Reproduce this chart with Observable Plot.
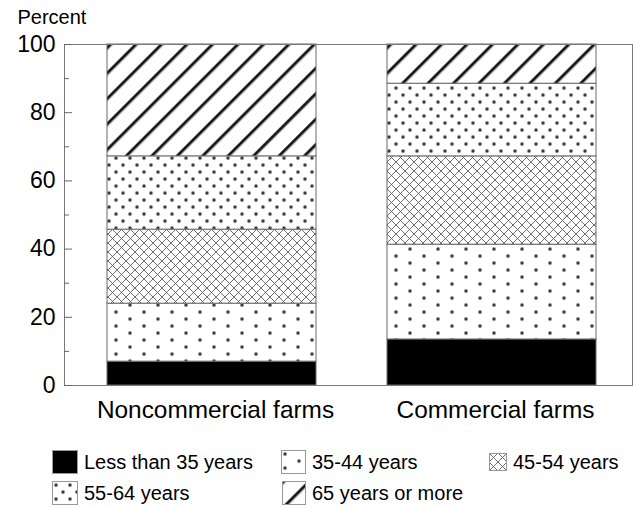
<!DOCTYPE html>
<html>
<head>
<meta charset="utf-8">
<script src="https://cdn.jsdelivr.net/npm/d3@7"></script>
<script src="https://cdn.jsdelivr.net/npm/@observablehq/plot@0.6"></script>
<style>
  html, body { margin: 0; padding: 0; background: #fff; }
  body { width: 633px; height: 508px; overflow: hidden; font-family: "Liberation Sans", Arial, sans-serif; color: #000; }
  #legend { position: relative; width: 633px; height: 78px; font-size: 20px; }
  .item { position: absolute; display: flex; align-items: center; white-space: nowrap; }
  .item svg { display: block; margin-right: 6px; }
</style>
</head>
<body>
<div id="chart"></div>
<div id="legend"></div>
<script>
// ---- data ----
const farms = ["Noncommercial farms", "Commercial farms"];
const ages = ["Less than 35 years", "35-44 years", "45-54 years", "55-64 years", "65 years or more"];
const noncommercial = [7.0, 17.0, 21.7, 21.5, 32.8];
const commercial = [13.5, 27.8, 25.9, 21.3, 11.5];
const majorTicks = [0, 20, 40, 60, 80, 100];
const minorTicks = [10, 30, 50, 70, 90];

const seriesByFarm = [noncommercial, commercial];
const data = [];
farms.forEach((f, i) => ages.forEach((a, j) => data.push({farm: f, age: a, pct: seriesByFarm[i][j]})));

const patternIds = ["p-lt35", "p-35", "p-45", "p-55", "p-65"];
const fills = ["#000", ...patternIds.slice(1).map(id => `url(#${id})`)];

// pattern definitions (global, used by bars and legend)
const defsSvg = `
<svg width="0" height="0" style="position:absolute">
  <defs>
    <pattern id="p-35" patternUnits="userSpaceOnUse" width="28" height="14">
      <rect width="28" height="14" fill="#fff"/>
      <circle cx="4" cy="4" r="2.2" fill="#888" opacity="0.5"/>
      <circle cx="4" cy="4" r="1.5" fill="#3a3a3a"/>
      <circle cx="18" cy="11" r="2.2" fill="#888" opacity="0.5"/>
      <circle cx="18" cy="11" r="1.5" fill="#3a3a3a"/>
    </pattern>
    <pattern id="p-55" patternUnits="userSpaceOnUse" width="14" height="14">
      <rect width="14" height="14" fill="#fff"/>
      <circle cx="4" cy="4" r="2.2" fill="#888" opacity="0.5"/>
      <circle cx="4" cy="4" r="1.5" fill="#3a3a3a"/>
      <circle cx="11" cy="11" r="2.2" fill="#888" opacity="0.5"/>
      <circle cx="11" cy="11" r="1.5" fill="#3a3a3a"/>
    </pattern>
    <pattern id="p-45" patternUnits="userSpaceOnUse" width="9" height="9">
      <rect width="9" height="9" fill="#fff"/>
      <path d="M0,0L9,9M9,0L0,9" stroke="#555" stroke-width="0.85"/>
    </pattern>
    <pattern id="p-65" patternUnits="userSpaceOnUse" width="18" height="18" patternTransform="rotate(45)">
      <rect width="18" height="18" fill="#fff"/>
      <rect x="-1" width="5" height="18" fill="#333" opacity="0.3"/>
      <rect x="0" width="3" height="18" fill="#111" opacity="0.6"/>
      <rect x="0.75" width="1.5" height="18" fill="#000"/>
    </pattern>
  </defs>
</svg>`;
document.body.insertAdjacentHTML("afterbegin", defsSvg);

const chart = Plot.plot({
  width: 633,
  height: 430,
  marginTop: 44,
  marginBottom: 45,
  marginLeft: 64,
  marginRight: 1,
  style: {fontFamily: "Liberation Sans, Arial, sans-serif", color: "#000", background: "#fff"},
  x: {domain: farms, paddingInner: 0.254, paddingOuter: 0.141, align: 0.545, label: null, axis: null},
  y: {domain: [0, 100], label: null, axis: null},
  color: {domain: ages, range: fills},
  marks: [
    Plot.barY(data, {x: "farm", y: "pct", fill: "age", stroke: "#6a6a6a", strokeWidth: 1}),
    Plot.frame({stroke: "#7a7a7a", strokeWidth: 1}),
    Plot.axisY({ticks: majorTicks, tickSize: 0, tickPadding: 9, fontSize: 23, label: null}),
    Plot.axisY({ticks: majorTicks, tickSize: 8, dx: 8, fill: "none", stroke: "#666", label: null}),
    Plot.axisY({ticks: minorTicks, tickSize: 5, dx: 5, fill: "none", stroke: "#666", label: null}),
    Plot.axisX({tickSize: 0, tickPadding: 15, dx: 3.5, fontSize: 24.4, label: null}),
    Plot.text(["Percent"], {frameAnchor: "top-left", dx: -47, dy: -27, fontSize: 20, textAnchor: "start", lineAnchor: "middle"})
  ]
});
document.getElementById("chart").appendChild(chart);

// legend
const legendPos = [
  {left: 52, top: 20, w: 26, h: 24},
  {left: 281, top: 20, w: 25, h: 24},
  {left: 489, top: 23, w: 18, h: 18},
  {left: 52, top: 51, w: 26, h: 24},
  {left: 282, top: 51, w: 24, h: 24}
];
const legend = document.getElementById("legend");
ages.forEach((a, i) => {
  const p = legendPos[i];
  const item = document.createElement("div");
  item.className = "item";
  item.style.left = p.left + "px";
  item.style.top = (p.top) + "px";
  item.style.height = p.h + "px";
  item.innerHTML = `<svg width="${p.w}" height="${p.h}"><rect x="0.5" y="0.5" width="${p.w - 1}" height="${p.h - 1}" fill="${fills[i]}" stroke="#999"/></svg><span>${a}</span>`;
  legend.appendChild(item);
});
</script>
</body>
</html>
